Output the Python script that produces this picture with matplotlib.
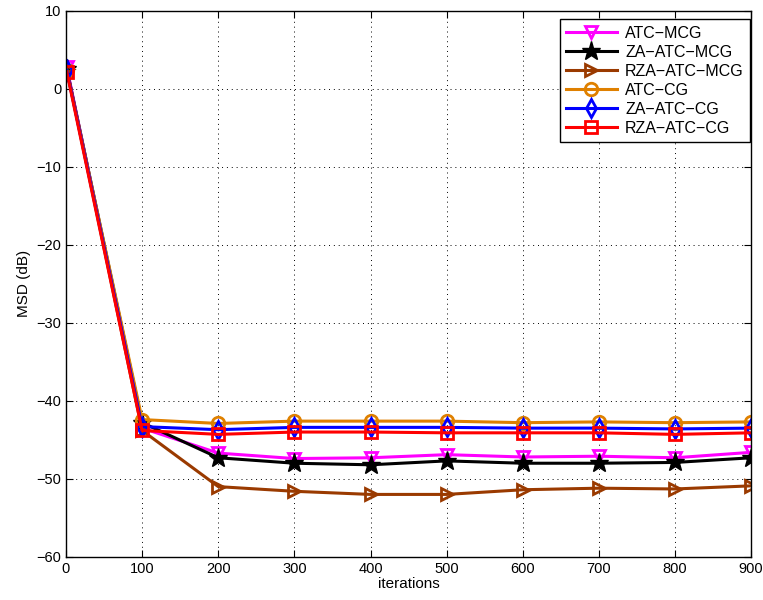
import numpy as np
import matplotlib.pyplot as plt

plt.rcParams['font.family'] = ['Liberation Sans', 'DejaVu Sans']

# iterations
iters = [1, 100, 200, 300, 400, 500, 600, 700, 800, 900]

# MSD (dB)
atc_mcg = [2.8, -43.5, -46.7, -47.4, -47.3, -46.9, -47.2, -47.1, -47.3, -46.6]
za_atc_mcg = [2.6, -42.8, -47.3, -48.0, -48.2, -47.7, -48.0, -48.0, -47.9, -47.3]
rza_atc_mcg = [2.5, -43.8, -51.0, -51.6, -52.0, -52.0, -51.4, -51.2, -51.3, -50.9]
atc_cg = [2.4, -42.4, -42.9, -42.6, -42.6, -42.6, -42.8, -42.7, -42.8, -42.7]
za_atc_cg = [2.4, -43.3, -43.7, -43.4, -43.4, -43.4, -43.5, -43.5, -43.6, -43.5]
rza_atc_cg = [2.2, -43.8, -44.3, -44.0, -44.0, -44.1, -44.1, -44.1, -44.3, -44.1]

names = ['ATC\u2212MCG', 'ZA\u2212ATC\u2212MCG', 'RZA\u2212ATC\u2212MCG',
         'ATC\u2212CG', 'ZA\u2212ATC\u2212CG', 'RZA\u2212ATC\u2212CG']
series = [atc_mcg, za_atc_mcg, rza_atc_mcg, atc_cg, za_atc_cg, rza_atc_cg]
colors = ['#ff00ff', 'black', '#9a3a00', '#df8000', '#0000ff', '#ff0000']
markers = ['v', '*', '>', 'o', 'd', 's']

fig = plt.figure(figsize=(7.63, 6.0), dpi=100)
ax = fig.add_axes([0.0865, 0.072, 0.898, 0.9097])

for y, name, c, m in zip(series, names, colors, markers):
    if m == '*':
        ax.plot(iters, y, color=c, lw=2.2, marker=m, markersize=14,
                markerfacecolor=c, markeredgecolor=c, label=name)
    else:
        ax.plot(iters, y, color=c, lw=2.2, marker=m, markersize=9,
                markerfacecolor='none', markeredgecolor=c, markeredgewidth=2,
                label=name)

ax.set_xlim(0, 900)
ax.set_ylim(-60, 10)
ax.set_xticks(np.arange(0, 901, 100))
ax.set_yticks(np.arange(-60, 11, 10))
ax.grid(True, linestyle=(0, (1, 4)), color='black', linewidth=0.7)
ax.tick_params(direction='in', top=True, right=True, labelsize=10.5, length=5)
for s in ax.spines.values():
    s.set_linewidth(1.0)
ax.set_xlabel('iterations', fontsize=11, labelpad=1)
ax.set_ylabel('MSD (dB)', fontsize=11)

leg = ax.legend(loc='upper right', bbox_to_anchor=(0.9985, 0.985),
                fontsize=11.5, handlelength=3.2, borderaxespad=0,
                labelspacing=0.25, fancybox=False, framealpha=1,
                edgecolor='black', handletextpad=0.5)
leg.get_frame().set_linewidth(1.0)

fig.savefig('out.png', dpi=100)
